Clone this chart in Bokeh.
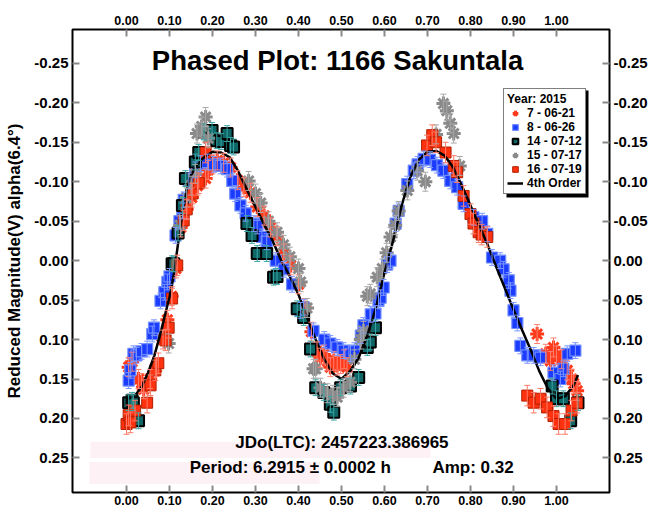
import numpy as np
from bokeh.plotting import figure
from bokeh.models import (Range1d, LinearAxis, FixedTicker, NumeralTickFormatter,
                          ColumnDataSource, Whisker, TeeHead, Legend, LegendItem,
                          Label, BoxAnnotation)
from bokeh.embed import file_html
from bokeh.resources import INLINE

FONT = "Liberation Sans"

X_TICKS = [0.0, 0.1, 0.2, 0.3, 0.4, 0.5, 0.6, 0.7, 0.8, 0.9, 1.0]
Y_TICKS = [-0.25, -0.20, -0.15, -0.10, -0.05, 0.0, 0.05, 0.10, 0.15, 0.20, 0.25]

# Session 7 - 06-21 (red asterisks)
S7_PHASE = [0.955, 0.975, 0.986, 0.993, 1.000, 1.012, 1.025, 1.035, 1.040, 1.048,
            0.005, 0.013, 0.028, 0.035, 0.040, 0.055, 0.070, 0.085, 0.095, 0.105,
            0.115, 0.126, 0.140, 0.152, 0.165, 0.184, 0.190, 0.200, 0.211, 0.226,
            0.242, 0.258, 0.273, 0.288, 0.304, 0.320, 0.335, 0.350, 0.366, 0.382,
            0.400, 0.415, 0.430, 0.443, 0.451, 0.459, 0.467, 0.474, 0.482, 0.490,
            0.498, 0.506, 0.513]
S7_MAG = [0.093, 0.118, 0.127, 0.110, 0.120, 0.125, 0.139, 0.150, 0.156, 0.165,
          0.135, 0.128, 0.150, 0.155, 0.163, 0.150, 0.135, 0.100, 0.075, 0.045,
          0.010, -0.042, -0.065, -0.080, -0.095, -0.104, -0.115, -0.122, -0.127, -0.124,
          -0.118, -0.102, -0.093, -0.086, -0.068, -0.057, -0.042, -0.031, -0.009, 0.006,
          0.030, 0.060, 0.090, 0.115, 0.123, 0.119, 0.127, 0.135, 0.127, 0.133,
          0.131, 0.125, 0.135]

# Session 8 - 06-26 (blue squares)
S8_PHASE = [0.005, 0.009, 0.016, 0.023, 0.035, 0.048, 0.060, 0.064, 0.079, 0.088,
            0.095, 0.100, 0.114, 0.123, 0.130, 0.133, 0.145, 0.160, 0.172, 0.188,
            0.203, 0.219, 0.234, 0.246, 0.253, 0.265, 0.277, 0.296, 0.304, 0.315,
            0.326, 0.347, 0.366, 0.385, 0.405, 0.412, 0.435, 0.460, 0.474, 0.490,
            0.505, 0.521, 0.530, 0.545, 0.551, 0.568, 0.579, 0.586, 0.591, 0.598,
            0.606, 0.614, 0.626, 0.633, 0.653, 0.668, 0.677, 0.691, 0.706, 0.722,
            0.737, 0.753, 0.769, 0.784, 0.807, 0.827, 0.839, 0.850, 0.869, 0.877,
            0.889, 0.893, 0.900, 0.909, 0.916, 0.932, 0.947, 0.963, 0.993, 1.009,
            1.016, 1.025, 1.044]
S8_MAG = [0.152, 0.139, 0.118, 0.120, 0.115, 0.112, 0.093, 0.085, 0.051, 0.040,
          0.027, 0.020, -0.032, -0.050, -0.063, -0.077, -0.101, -0.115, -0.123, -0.125,
          -0.122, -0.120, -0.116, -0.101, -0.085, -0.070, -0.060, -0.047, -0.044, -0.030,
          -0.024, 0.000, 0.011, 0.030, 0.063, 0.059, 0.089, 0.100, 0.105, 0.110,
          0.114, 0.118, 0.114, 0.095, 0.082, 0.068, 0.067, 0.051, 0.047, 0.034,
          0.005, 0.000, -0.047, -0.063, -0.097, -0.114, -0.122, -0.129, -0.128, -0.121,
          -0.114, -0.101, -0.093, -0.072, -0.055, -0.050, -0.034, -0.004, 0.000, 0.011,
          0.025, 0.038, 0.063, 0.079, 0.108, 0.120, 0.120, 0.123, 0.142, 0.150,
          0.137, 0.118, 0.114]

# Session 14 - 07-12 (dark teal squares)
S14_PHASE = [0.005, 0.013, 0.016, 0.028, 0.106, 0.110, 0.120, 0.130, 0.137, 0.160,
             0.168, 0.180, 0.199, 0.210, 0.220, 0.234, 0.242, 0.249, 0.280, 0.292,
             0.304, 0.326, 0.342, 0.350, 0.397, 0.412, 0.428, 0.440, 0.459, 0.474,
             0.482, 0.498, 0.521, 0.540, 0.560, 0.567, 0.579, 0.990, 1.000, 1.016,
             1.033, 1.050]
S14_MAG = [0.180, 0.177, 0.180, 0.203, 0.004, 0.004, -0.035, -0.070, -0.104, -0.125,
           -0.137, -0.163, -0.165, -0.152, -0.151, -0.161, -0.146, -0.144, -0.047, -0.032,
           -0.009, -0.009, 0.021, 0.020, 0.061, 0.072, 0.112, 0.161, 0.167, 0.182,
           0.192, 0.161, 0.159, 0.148, 0.110, 0.103, 0.085, 0.159, 0.175, 0.175,
           0.203, 0.180]

# Session 15 - 07-17 (gray asterisks)
S15_PHASE = [0.098, 0.125, 0.140, 0.150, 0.160, 0.164, 0.175, 0.184, 0.190, 0.284,
             0.300, 0.312, 0.330, 0.350, 0.365, 0.380, 0.400, 0.405, 0.420, 0.435,
             0.440, 0.451, 0.467, 0.480, 0.490, 0.505, 0.520, 0.530, 0.545, 0.551,
             0.560, 0.567, 0.583, 0.595, 0.605, 0.614, 0.625, 0.633, 0.653, 0.676,
             0.695, 0.720, 0.737, 0.745, 0.753, 0.761, 0.775]
S15_MAG = [0.105, -0.045, -0.080, -0.095, -0.110, -0.161, -0.170, -0.182, -0.155, -0.101,
           -0.085, -0.073, -0.050, -0.036, -0.020, -0.005, 0.010, 0.027, 0.060, 0.137,
           0.137, 0.161, 0.168, 0.170, 0.173, 0.161, 0.154, 0.125, 0.100, 0.089,
           0.045, 0.042, 0.021, 0.010, -0.010, -0.030, -0.045, -0.063, -0.089, -0.114,
           -0.100, -0.160, -0.199, -0.190, -0.174, -0.161, -0.120]

# Session 16 - 07-19 (red squares)
S16_PHASE = [0.000, 0.005, 0.009, 0.020, 0.048, 0.056, 0.067, 0.074, 0.091, 0.098,
             0.106, 0.118, 0.133, 0.140, 0.153, 0.168, 0.184, 0.699, 0.711, 0.720,
             0.742, 0.761, 0.769, 0.784, 0.800, 0.807, 0.819, 0.826, 0.839, 0.932,
             0.947, 0.963, 0.978, 0.993, 1.005, 1.020, 1.035, 1.048]
S16_MAG = [0.207, 0.196, 0.205, 0.190, 0.180, 0.158, 0.139, 0.130, 0.101, 0.085,
           0.048, 0.006, -0.051, -0.065, -0.085, -0.098, -0.137, -0.146, -0.159, -0.150,
           -0.137, -0.120, -0.112, -0.082, -0.059, -0.047, -0.036, -0.033, -0.030, 0.171,
           0.180, 0.175, 0.186, 0.197, 0.207, 0.207, 0.190, 0.180]

# 4th order Fourier fit
FIT_PHASE = [0.00, 0.02, 0.035, 0.05, 0.065, 0.08, 0.09, 0.10, 0.11, 0.12,
             0.13, 0.14, 0.15, 0.16, 0.17, 0.18, 0.20, 0.22, 0.24, 0.26,
             0.28, 0.30, 0.32, 0.34, 0.36, 0.38, 0.40, 0.42, 0.44, 0.46,
             0.48, 0.50, 0.52, 0.54, 0.56, 0.58, 0.60, 0.62, 0.64, 0.66,
             0.68, 0.70, 0.72, 0.74, 0.76, 0.78, 0.80, 0.82, 0.84, 0.86,
             0.88, 0.90, 0.92, 0.94, 0.96, 0.98, 1.00, 1.02, 1.04, 1.05]
FIT_MAG = [0.176, 0.171, 0.160, 0.142, 0.120, 0.090, 0.068, 0.046, 0.018, -0.022,
           -0.060, -0.090, -0.108, -0.118, -0.125, -0.131, -0.138, -0.137, -0.131, -0.113,
           -0.090, -0.068, -0.046, -0.025, 0.000, 0.020, 0.043, 0.072, 0.100, 0.125,
           0.143, 0.150, 0.140, 0.123, 0.095, 0.060, 0.015, -0.025, -0.070, -0.106,
           -0.128, -0.138, -0.139, -0.133, -0.118, -0.095, -0.070, -0.045, -0.020, 0.008,
           0.035, 0.062, 0.088, 0.113, 0.140, 0.162, 0.175, 0.172, 0.158, 0.145]

ERR_7, ERR_8, ERR_14, ERR_15, ERR_16 = 0.012, 0.010, 0.010, 0.012, 0.013

p = figure(width=650, height=510,
           x_range=Range1d(-0.1256, 1.1233), y_range=Range1d(0.2938, -0.2929),
           output_backend="svg", toolbar_location=None,
           min_border_left=72, min_border_right=41, min_border_top=29, min_border_bottom=18,
           background_fill_color="white", border_fill_color="white")
p.grid.visible = False
p.outline_line_color = "black"
p.outline_line_width = 2

p.add_layout(LinearAxis(), "above")
p.add_layout(LinearAxis(), "right")


def style_axis(ax, ticks, size, standoff):
    ax.ticker = FixedTicker(ticks=ticks)
    ax.formatter = NumeralTickFormatter(format="0.00")
    ax.axis_line_color = None
    ax.major_tick_line_color = "#8a8a8a"
    ax.major_tick_line_width = 2
    ax.major_tick_in = 7
    ax.major_tick_out = 0
    ax.minor_tick_line_color = None
    ax.major_label_text_font = FONT
    ax.major_label_text_font_style = "bold"
    ax.major_label_text_font_size = size
    ax.major_label_text_color = "black"
    ax.major_label_standoff = standoff


style_axis(p.below[0], X_TICKS, "12.5px", 3)
style_axis(p.above[0], X_TICKS, "12.5px", 5)
style_axis(p.left[0], Y_TICKS, "15px", 4)
style_axis(p.right[0], Y_TICKS, "15px", 4)
p.left[0].axis_label = "Reduced Magnitude(V) alpha(6.4°)"
p.left[0].axis_label_text_font = FONT
p.left[0].axis_label_text_font_style = "bold"
p.left[0].axis_label_text_font_size = "17px"
p.left[0].axis_label_text_color = "black"
p.left[0].axis_label_standoff = 7

# faint background boxes behind the annotation text
p.add_layout(BoxAnnotation(left=-0.084, right=0.707, top=0.2295, bottom=0.250,
                           fill_color="#fdf1f5", fill_alpha=1, line_color=None, level="underlay"))
p.add_layout(BoxAnnotation(left=-0.086, right=0.449, top=0.255, bottom=0.283,
                           fill_color="#fdf1f5", fill_alpha=1, line_color=None, level="underlay"))


def add_series(phase, mag, err, marker, size, fill, line, lw, ecolor):
    ph = np.array(phase)
    mg = np.array(mag)
    src = ColumnDataSource(dict(x=ph, y=mg, lo=mg - err, hi=mg + err))
    w = Whisker(base="x", upper="hi", lower="lo", source=src, line_color=ecolor,
                line_width=1, level="glyph",
                upper_head=TeeHead(size=6, line_color=ecolor, line_width=1),
                lower_head=TeeHead(size=6, line_color=ecolor, line_width=1))
    p.add_layout(w)
    r = p.scatter("x", "y", source=src, marker=marker, size=size, fill_color=fill,
                  line_color=line, line_width=lw)
    return r


r7 = add_series(S7_PHASE, S7_MAG, ERR_7, "asterisk", 14, None, "#ff3a1a", 3, "#ff8070")
r8 = add_series(S8_PHASE, S8_MAG, ERR_8, "square", 11, "#1b3cff", "#6f8cff", 1.2, "#7b96ff")
r14 = add_series(S14_PHASE, S14_MAG, ERR_14, "square", 11, "#0f6666", "black", 2, "#3aa6a6")
r15 = add_series(S15_PHASE, S15_MAG, ERR_15, "asterisk", 14, None, "#8a8a8a", 3, "#a8a8a8")
r16 = add_series(S16_PHASE, S16_MAG, ERR_16, "square", 11, "#ff3210", "#b02000", 1, "#ff7a66")
rfit = p.line(FIT_PHASE, FIT_MAG, line_color="black", line_width=2.5)

items_spec = [("7 - 06-21", r7), ("8 - 06-26", r8), ("14 - 07-12", r14),
              ("15 - 07-17", r15), ("16 - 07-19", r16), ("4th Order", rfit)]

# drop shadow of the legend box
p.add_layout(BoxAnnotation(left=506, right=588, top=90, bottom=197,
                           left_units="canvas", right_units="canvas",
                           top_units="canvas", bottom_units="canvas",
                           fill_color="black", fill_alpha=1, line_color=None))

legend = Legend(items=[LegendItem(label=l, renderers=[r]) for l, r in items_spec],
                location=(431, 298), title="Year: 2015",
                border_line_color="black", border_line_width=1.5,
                background_fill_color="white", background_fill_alpha=1,
                label_text_font=FONT, label_text_font_style="bold",
                label_text_font_size="12px", label_text_color="black",
                title_text_font=FONT, title_text_font_style="bold",
                title_text_font_size="12px", title_text_color="black",
                title_standoff=0, label_height=12, glyph_height=14, glyph_width=16,
                label_standoff=4, spacing=0, padding=3, margin=0)
p.add_layout(legend, "center")

p.add_layout(Label(x=0.4907, y=-0.2536, text="Phased Plot: 1166 Sakuntala",
                   text_font=FONT, text_font_style="bold", text_font_size="27.5px",
                   text_align="center", text_baseline="middle", text_color="black"))
p.add_layout(Label(x=0.501, y=0.2308, text="JDo(LTC): 2457223.386965",
                   text_font=FONT, text_font_style="bold", text_font_size="17px",
                   text_align="center", text_baseline="middle", text_color="black"))
p.add_layout(Label(x=0.381, y=0.2625, text="Period: 6.2915 ± 0.0002 h",
                   text_font=FONT, text_font_style="bold", text_font_size="17px",
                   text_align="center", text_baseline="middle", text_color="black"))
p.add_layout(Label(x=0.806, y=0.2625, text="Amp: 0.32",
                   text_font=FONT, text_font_style="bold", text_font_size="17px",
                   text_align="center", text_baseline="middle", text_color="black"))

open("out.html", "w").write(file_html(p, INLINE))
